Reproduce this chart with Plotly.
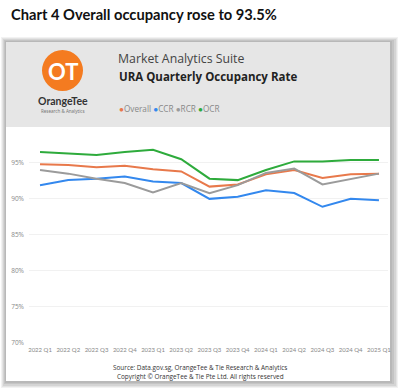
import plotly.graph_objects as go

quarters = ["2022 Q1", "2022 Q2", "2022 Q3", "2022 Q4", "2023 Q1", "2023 Q2", "2023 Q3",
            "2023 Q4", "2024 Q1", "2024 Q2", "2024 Q3", "2024 Q4", "2025 Q1"]
overall = [94.8, 94.7, 94.4, 94.6, 94.1, 93.8, 91.7, 92.0, 93.4, 94.0, 92.9, 93.4, 93.5]
ccr = [91.9, 92.6, 92.8, 93.1, 92.4, 92.2, 90.0, 90.3, 91.2, 90.8, 88.9, 90.0, 89.8]
rcr = [94.0, 93.5, 92.8, 92.2, 90.9, 92.2, 90.8, 91.9, 93.6, 94.2, 92.0, 92.8, 93.5]
ocr = [96.5, 96.3, 96.1, 96.5, 96.8, 95.5, 92.8, 92.6, 94.0, 95.2, 95.2, 95.4, 95.4]
ytick_vals = [70, 75, 80, 85, 90, 95]
ytick_text = ["70%", "75%", "80%", "85%", "90%", "95%"]

series = [("Overall", overall, "#e8794b"), ("CCR", ccr, "#3388ee"),
          ("RCR", rcr, "#9b9b9b"), ("OCR", ocr, "#2eab3c")]

W, H = 399, 389
L, R, T, B = 29, 11, 134, 46
PW, PH = W - L - R, H - T - B


def px(x):
    return (x - L) / PW


def py(y):
    return (H - B - y) / PH


fig = go.Figure()
idx = list(range(len(quarters)))
for name, vals, col in series:
    fig.add_trace(go.Scatter(x=idx, y=vals, mode="lines", name=name,
                             line=dict(color=col, width=2), showlegend=False))

shapes = []
# shadow
for (x0, y0, x1, y1, c) in [(1, 37, 398, 388, "#f2f2f2"), (2, 38, 397, 387, "#e4e4e4"),
                            (3, 39, 396, 386, "#d4d4d4"), (4, 40, 394, 384, "#c4c4c4"),
                            (5, 41, 392, 383, "#b8b8b8")]:
    shapes.append(dict(type="rect", xref="paper", yref="paper", x0=px(x0), x1=px(x1),
                       y0=py(y1), y1=py(y0), fillcolor=c, line=dict(width=0), layer="below"))
# card
shapes.append(dict(type="rect", xref="paper", yref="paper", x0=px(6), x1=px(390),
                   y0=py(381), y1=py(42), fillcolor="#ffffff", line=dict(width=0), layer="below"))
shapes.append(dict(type="rect", xref="paper", yref="paper", x0=px(6), x1=px(390),
                   y0=py(127), y1=py(42), fillcolor="#e6e6e6", line=dict(width=0), layer="below"))
# logo circle
shapes.append(dict(type="circle", xref="paper", yref="paper", x0=px(42), x1=px(83),
                   y0=py(91), y1=py(50), fillcolor="#f47b20", line=dict(width=0), layer="below"))

ann = []


def txt(x, y, s, size, color="#333", bold=False, xanchor="left", family="Noto Sans"):
    ann.append(dict(xref="paper", yref="paper", x=px(x), y=py(y), text=("<b>%s</b>" % s) if bold else s,
                    showarrow=False, xanchor=xanchor, yanchor="middle",
                    font=dict(size=size, color=color, family=family)))


txt(9, 14, "Chart 4 Overall occupancy rose to 93.5%", 14.7, "#111", True, family="Lato")
txt(62.5, 71, "OT", 22, "#ffffff", True, "center", family="Lato")
txt(63, 101, "OrangeTee", 10.5, "#333", True, "center", family="Lato")
txt(63, 111, "Research &amp; Analytics", 4.5, "#777", False, "center")
txt(116, 58, "Market Analytics Suite", 12.3, "#444", family="Open Sans")
txt(117, 76, "URA Quarterly Occupancy Rate", 11.5, "#222", True, family="Open Sans")
leg = " ".join("<span style='color:%s'>●</span>%s" % (c, n) for n, _, c in series)
txt(117, 109, leg, 8.2, "#888", family="Open Sans")
txt(200, 367, "Source: Data.gov.sg, OrangeTee &amp; Tie Research &amp; Analytics", 6.4, "#333", False, "center", family="Open Sans")
txt(200, 376, "Copyright © OrangeTee &amp; Tie Pte Ltd. All rights reserved", 6.4, "#333", False, "center", family="Open Sans")

fig.update_layout(
    width=W, height=H, margin=dict(l=L, r=R, t=T, b=B, pad=0),
    paper_bgcolor="#ffffff", plot_bgcolor="rgba(0,0,0,0)",
    shapes=shapes, annotations=ann,
    xaxis=dict(range=[-0.39, 12.32], tickmode="array", tickvals=idx, ticktext=quarters,
               showgrid=False, zeroline=False, showline=False, ticks="", automargin=False,
               tickfont=dict(size=6, color="#888", family="Lato"), tickangle=0, ticklabelstandoff=2),
    yaxis=dict(range=[70, 99], tickmode="array", tickvals=ytick_vals, ticktext=ytick_text,
               showgrid=True, gridcolor="#f1f1f1", gridwidth=1, zeroline=False, showline=False,
               automargin=False,
               ticks="", tickfont=dict(size=6.5, color="#888", family="Open Sans"), ticklabelstandoff=4),
)
fig.write_html("out.html", config={"displayModeBar": False},
               post_script="document.body.style.margin='0';document.body.style.overflow='hidden';")
